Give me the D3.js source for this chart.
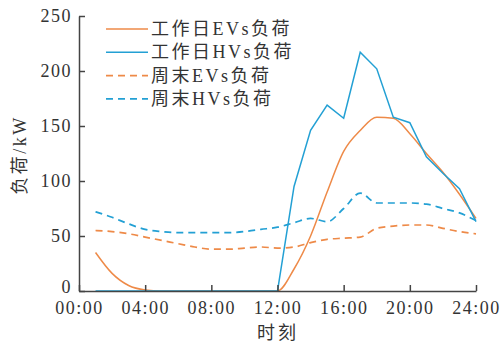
<!DOCTYPE html>
<html>
<head>
<meta charset="utf-8">
<script src="https://cdn.jsdelivr.net/npm/d3@7"></script>
<style>
  body { margin: 0; background: #fff; }
  text { font-family: "Liberation Serif", "Noto Sans CJK SC", serif; fill: #333; }
</style>
</head>
<body>
<div id="chart"></div>
<script>
const hours = d3.range(1, 25);
const xTickValues = [0, 4, 8, 12, 16, 20, 24];
const xTickLabels = ['00:00', '04:00', '08:00', '12:00', '16:00', '20:00', '24:00'];
const yTickValues = [0, 50, 100, 150, 200, 250];

const weekdayEV = [35, 16, 5, 1, 0, 0, 0, 0, 0, 0, 0, 0, 20, 50, 90, 127, 146, 158, 157, 143, 125, 108, 88, 66];
const weekdayHV = [0, 0, 0, 0, 0, 0, 0, 0, 0, 0, 0, 0, 95, 146, 169, 157, 217, 202, 158, 153, 122, 107, 93, 63];
const weekendEV = [55, 54, 52, 49, 46, 43, 40, 38, 38, 39, 40, 39, 40, 44, 47, 48, 49, 57, 59, 60, 60, 57, 54, 52];
const weekendHV = [72, 67, 61, 56, 54, 53, 53, 53, 53, 54, 56, 58, 62, 66, 63, 75, 89, 80, 80, 80, 79, 75, 71, 64];

const seriesNames = ['工作日EVs负荷', '工作日HVs负荷', '周末EVs负荷', '周末HVs负荷'];
const orange = '#ee8a48';
const blue = '#23a0d4';

const series = [
  { name: seriesNames[0], values: weekdayEV, color: orange, dash: null, curve: d3.curveMonotoneX },
  { name: seriesNames[1], values: weekdayHV, color: blue, dash: null, curve: d3.curveLinear },
  { name: seriesNames[2], values: weekendEV, color: orange, dash: '7,5', curve: d3.curveMonotoneX },
  { name: seriesNames[3], values: weekendHV, color: blue, dash: '7,5', curve: d3.curveMonotoneX },
];

const width = 502;
const height = 347;
const svg = d3.select('#chart')
  .append('svg')
  .attr('width', width)
  .attr('height', height);

const x = d3.scaleLinear().domain([0, 24]).range([79, 476]);
const y = d3.scaleLinear().domain([0, 250]).range([291, 16]);

// lines first so axes sit on top
const line = d3.line()
  .x((d, i) => x(hours[i]))
  .y((d) => y(d));

svg.selectAll('.series')
  .data(series)
  .join('path')
  .attr('class', 'series')
  .attr('fill', 'none')
  .attr('stroke', (d) => d.color)
  .attr('stroke-width', (d) => (d.dash ? 1.7 : 1.5))
  .attr('stroke-dasharray', (d) => d.dash)
  .attr('d', (d) => line.curve(d.curve)(d.values));

const xAxis = svg.append('g')
  .attr('transform', `translate(0,${y(0)})`)
  .call(d3.axisBottom(x)
    .tickValues(xTickValues)
    .tickFormat((d, i) => xTickLabels[i])
    .tickSizeInner(-6)
    .tickSizeOuter(0)
    .tickPadding(10));

const yAxis = svg.append('g')
  .attr('transform', `translate(${x(0)},0)`)
  .call(d3.axisLeft(y)
    .tickValues(yTickValues)
    .tickSizeInner(-6)
    .tickSizeOuter(0)
    .tickPadding(7));

[xAxis, yAxis].forEach((g) => {
  g.select('.domain').attr('stroke', '#444').attr('stroke-width', 1.5);
  g.selectAll('.tick line').attr('stroke', '#444').attr('stroke-width', 1.5);
  g.selectAll('.tick text')
    .style('font-size', '18px')
    .style('letter-spacing', '1.5px')
    .attr('fill', '#333');
});

// the zero label sits a little higher than the others
yAxis.selectAll('.tick text').filter((d) => d === 0).attr('dy', '0.1em');

svg.append('text')
  .attr('x', 278)
  .attr('y', 339)
  .attr('text-anchor', 'middle')
  .style('font-size', '18px')
  .style('letter-spacing', '3px')
  .text('时刻');

svg.append('text')
  .attr('transform', 'translate(26,155) rotate(-90)')
  .attr('text-anchor', 'middle')
  .style('font-size', '18px')
  .style('letter-spacing', '2.5px')
  .text('负荷/kW');

// legend
const legend = svg.append('g');
const legendRow = 23.3;
legend.selectAll('line')
  .data(series)
  .join('line')
  .attr('x1', 106)
  .attr('x2', 148)
  .attr('y1', (d, i) => 29 + legendRow * i)
  .attr('y2', (d, i) => 29 + legendRow * i)
  .attr('stroke', (d) => d.color)
  .attr('stroke-width', (d) => (d.dash ? 1.7 : 1.5))
  .attr('stroke-dasharray', (d) => d.dash);

legend.selectAll('text')
  .data(series)
  .join('text')
  .attr('x', 151)
  .attr('y', (d, i) => 35 + legendRow * i)
  .style('font-size', '18px')
  .style('letter-spacing', '2.5px')
  .text((d) => d.name);
</script>
</body>
</html>
